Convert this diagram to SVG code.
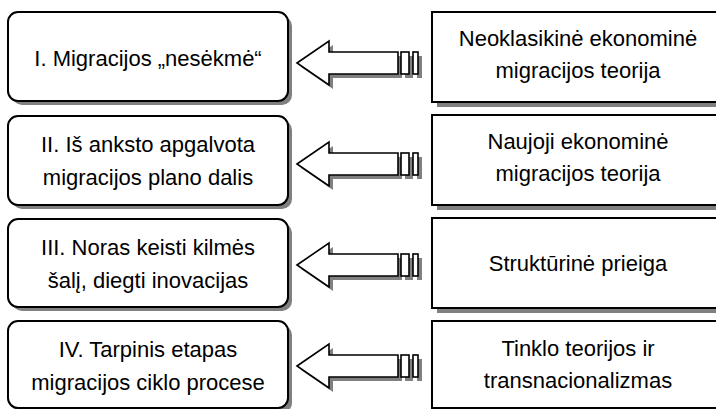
<svg xmlns="http://www.w3.org/2000/svg" width="716" height="409" viewBox="0 0 716 409">
<defs>
<style>
.bg{fill:#ffffff}
.sh{fill:#808080;stroke:none}
.lb{fill:#ffffff;stroke:#000000;stroke-width:2}
.rb{fill:#ffffff;stroke:#000000;stroke-width:2}
.ar{fill:#ffffff;stroke:#000000;stroke-width:1.6;stroke-linejoin:miter}
text{font-family:"Liberation Sans",Arial,sans-serif;font-size:22px;fill:#000000;text-anchor:middle}
</style>
<g id="arrowShape">
<path class="sh" transform="translate(4,4)" d="M297,0 L329,-22 L329,-11 L398,-11 L398,11 L329,11 L329,22 Z M401,-11 H409 V11 H401 Z M413,-11 H418 V11 H413 Z"/>
<path class="ar" d="M297,0 L329,-22 L329,-11 L398,-11 L398,11 L329,11 L329,22 Z"/>
<rect class="ar" x="401" y="-11" width="8" height="22"/>
<rect class="ar" x="413" y="-11" width="5" height="22"/>
</g>
</defs>
<rect class="bg" x="0" y="0" width="716" height="409"/>

<g id="connectors">
<use href="#arrowShape" transform="translate(0,63)"/>
<use href="#arrowShape" transform="translate(0,164)"/>
<use href="#arrowShape" transform="translate(0,265)"/>
<use href="#arrowShape" transform="translate(0,366)"/>
</g>

<g id="stage1">
<rect class="sh" x="12" y="16" width="280" height="89" rx="10"/>
<rect class="lb" x="8" y="12" width="280" height="89" rx="10"/>
<text x="148" y="66">I. Migracijos „nesėkmė“</text>
</g>
<g id="stage2">
<rect class="sh" x="12" y="120" width="280" height="89" rx="10"/>
<rect class="lb" x="8" y="116" width="280" height="89" rx="10"/>
<text x="148" y="152">II. Iš anksto apgalvota</text>
<text x="148" y="185">migracijos plano dalis</text>
</g>
<g id="stage3">
<rect class="sh" x="12" y="223" width="280" height="88" rx="10"/>
<rect class="lb" x="8" y="219" width="280" height="88" rx="10"/>
<text x="148" y="255">III. Noras keisti kilmės</text>
<text x="148" y="288">šalį, diegti inovacijas</text>
</g>
<g id="stage4">
<rect class="sh" x="12" y="325" width="280" height="88" rx="10"/>
<rect class="lb" x="8" y="321" width="280" height="87" rx="10"/>
<text x="148" y="357">IV. Tarpinis etapas</text>
<text x="148" y="390">migracijos ciklo procese</text>
</g>

<g id="theory1">
<rect class="sh" x="437" y="17" width="290" height="90"/>
<rect class="rb" x="432" y="12" width="292" height="90"/>
<text x="578" y="46">Neoklasikinė ekonominė</text>
<text x="578" y="78">migracijos teorija</text>
</g>
<g id="theory2">
<rect class="sh" x="437" y="120" width="290" height="90"/>
<rect class="rb" x="432" y="115" width="292" height="90"/>
<text x="578" y="149">Naujoji ekonominė</text>
<text x="578" y="181">migracijos teorija</text>
</g>
<g id="theory3">
<rect class="sh" x="437" y="223" width="290" height="90"/>
<rect class="rb" x="432" y="218" width="292" height="90"/>
<text x="578" y="271">Struktūrinė prieiga</text>
</g>
<g id="theory4">
<rect class="sh" x="437" y="326" width="290" height="90"/>
<rect class="rb" x="432" y="321" width="292" height="87"/>
<text x="578" y="356">Tinklo teorijos ir</text>
<text x="578" y="388">transnacionalizmas</text>
</g>
</svg>
